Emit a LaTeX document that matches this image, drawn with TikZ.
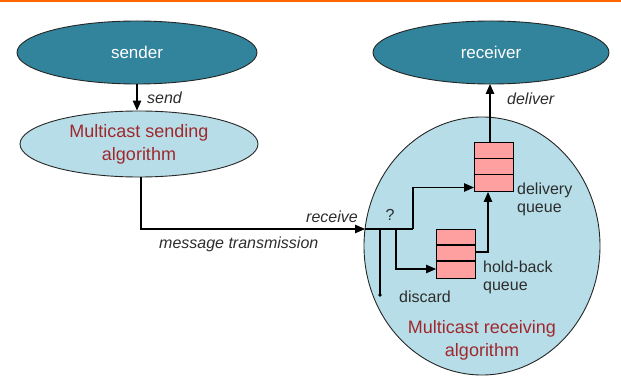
\documentclass[tikz,border=0pt]{standalone}
\usepackage{fontspec}
\setmainfont{Liberation Sans}
\usetikzlibrary{shapes.geometric,arrows.meta,calc}
\definecolor{darkteal}{RGB}{49,132,155}
\definecolor{lightblue}{RGB}{183,222,232}
\definecolor{redtext}{RGB}{160,40,45}
\definecolor{queuepink}{RGB}{255,160,160}
\definecolor{labelgray}{RGB}{45,45,45}
\definecolor{topline}{RGB}{255,102,0}
\begin{document}
\begin{tikzpicture}[x=1pt,y=-1pt,
  darkell/.style={ellipse,draw=black!85,line width=0.9pt,fill=darkteal,text=white,inner sep=0pt,font=\fontsize{17}{20}\selectfont},
  lightell/.style={ellipse,draw=black!85,line width=0.9pt,fill=lightblue,text=redtext,inner sep=0pt,align=center,font=\fontsize{18}{23}\selectfont},
  queuebox/.style={rectangle,draw=black,line width=1pt,fill=queuepink,minimum width=39pt,minimum height=49pt,inner sep=0pt},
  arr/.style={-{Triangle[length=10pt,width=8.5pt]},line width=1.1pt,black},
  ln/.style={line width=1.1pt,black},
  lbl/.style={text=labelgray,font=\fontsize{16}{18}\selectfont,inner sep=0pt},
  ilbl/.style={lbl,font=\fontsize{16}{18}\selectfont\itshape}]
\useasboundingbox (0,0) rectangle (621,382);
\fill[topline] (0,0) rectangle (621,2.2);

\node[darkell,minimum width=240pt,minimum height=63pt] (sender) at (137,52.5) {sender};
\node[darkell,minimum width=236pt,minimum height=63pt] (receiver) at (491,52.5) {receiver};
\node[lightell,minimum width=238pt,minimum height=66pt] (sendalg) at (139,144) {Multicast sending\\algorithm};
\node[lightell,minimum width=236pt,minimum height=258pt] (recvalg) at (482,246) {};
\node[text=redtext,font=\fontsize{18}{23}\selectfont,align=center] (recvtext) at (482,340) {Multicast receiving\\algorithm};

\node[queuebox] (dq) at (493.5,167.5) {};
\draw[ln] ($(dq.north west)+(0,16)$) -- ($(dq.north east)+(0,16)$);
\draw[ln] ($(dq.north west)+(0,32)$) -- ($(dq.north east)+(0,32)$);
\node[queuebox] (hq) at (455.5,254) {};
\draw[ln] ($(hq.north west)+(0,16)$) -- ($(hq.north east)+(0,16)$);
\draw[ln] ($(hq.north west)+(0,32)$) -- ($(hq.north east)+(0,32)$);

\coordinate (split) at (365,229);
\coordinate (bdis) at (380,229);
\coordinate (bhold) at (396,229);
\coordinate (bdel) at (413,229);
\coordinate (dis) at (380,295);
\coordinate (dqin) at (474,187.5);
\coordinate (hqin) at (436,269);
\coordinate (hqout) at (475,252);
\coordinate (dqbot) at (488,192);

\draw[arr] (sender.south) -- (sender.south |- sendalg.north);
\draw[arr] ($(sendalg.south)+(2,0)$) |- (split);
\draw[ln] (split) -- (bdel);
\draw[arr] (bdel) |- (dqin);
\draw[arr] (bhold) |- (hqin);
\draw[ln] (bdis) -- (dis);
\fill (dis) circle (1.8pt);
\draw[arr] (hqout) -| (dqbot);
\draw[arr] (dq.north -| 490,0) -- (490,84);

\node[ilbl,anchor=west] (lsend) at (147,98) {send};
\node[ilbl,anchor=west] (ldeliver) at (507,99) {deliver};
\node[ilbl,anchor=east] (lreceive) at (358,217) {receive};
\node[ilbl,anchor=west] (lmsg) at (159,244) {message transmission};
\node[lbl] (lq) at (390,215) {?};
\node[lbl,anchor=west] (ldiscard) at (399,297) {discard};
\node[lbl,anchor=west,align=left] (ldq) at (517,199) {delivery\\queue};
\node[lbl,anchor=west,align=left] (lhq) at (483,277) {hold-back\\queue};
\end{tikzpicture}
\end{document}
